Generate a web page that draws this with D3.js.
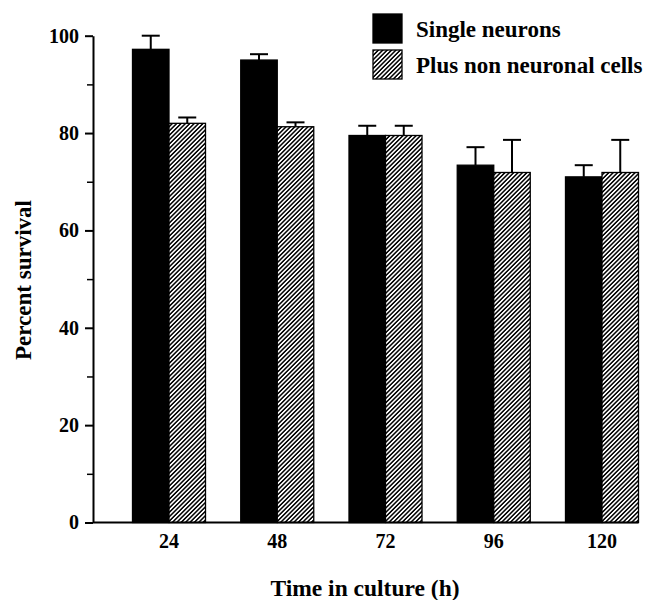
<!DOCTYPE html>
<html>
<head>
<meta charset="utf-8">
<script src="https://cdn.jsdelivr.net/npm/d3@7"></script>
<style>
  body { margin: 0; background: #fff; }
  svg { display: block; }
</style>
</head>
<body>
<script>
// values
var hours = ["24", "48", "72", "96", "120"];
var single = [97.2, 95.0, 79.5, 73.4, 71.0];
var singleErr = [2.8, 1.2, 2.0, 3.7, 2.4];
var plus = [82.0, 81.3, 79.5, 71.9, 71.9];
var plusErr = [1.2, 0.9, 2.0, 6.7, 6.7];
var yTicks = [0, 20, 40, 60, 80, 100];
var yMinor = [10, 30, 50, 70, 90];
var series = ["Single neurons", "Plus non neuronal cells"];

var width = 665, height = 600;
var font = "'Liberation Serif', 'Times New Roman', serif";

var svg = d3.select("body").append("svg")
    .attr("width", width)
    .attr("height", height)
    .attr("font-family", font)
    .attr("font-weight", "bold");

var defs = svg.append("defs");
defs.append("pattern")
    .attr("id", "hatch")
    .attr("patternUnits", "userSpaceOnUse")
    .attr("width", 3.1)
    .attr("height", 3.1)
    .attr("patternTransform", "rotate(45)")
  .call(p => {
    p.append("rect").attr("width", 3.1).attr("height", 3.1).attr("fill", "#fff");
    p.append("line").attr("x1", 0.8).attr("x2", 0.8).attr("y1", 0).attr("y2", 3.1)
      .attr("stroke", "#000").attr("stroke-width", 1.5);
  });

var axisX = 93;
var y = d3.scaleLinear().domain([0, 100]).range([522.5, 35.7]);

var x = d3.scaleBand()
    .domain(hours)
    .range([132.5, 638.5])
    .paddingInner(0.3256)
    .paddingOuter(0);

var x1 = d3.scaleBand()
    .domain([0, 1])
    .range([0, x.bandwidth()]);

var rows = hours.map((h, i) => ({
  hour: h,
  bars: [
    {k: 0, v: single[i], e: singleErr[i]},
    {k: 1, v: plus[i], e: plusErr[i]}
  ]
}));

var fills = ["#000", "url(#hatch)"];

var group = svg.append("g").selectAll("g")
  .data(rows)
  .join("g")
    .attr("transform", d => `translate(${x(d.hour)},0)`);

// error bars (drawn first, bar tops cover the base)
group.selectAll("g.err")
  .data(d => d.bars)
  .join("g")
    .attr("class", "err")
    .attr("stroke", "#000")
    .attr("stroke-width", 2)
  .call(g => {
    g.append("line")
      .attr("x1", d => x1(d.k) + x1.bandwidth() / 2)
      .attr("x2", d => x1(d.k) + x1.bandwidth() / 2)
      .attr("y1", d => y(d.v))
      .attr("y2", d => y(d.v + d.e));
    g.append("line")
      .attr("x1", d => x1(d.k) + x1.bandwidth() / 2 - 9)
      .attr("x2", d => x1(d.k) + x1.bandwidth() / 2 + 9)
      .attr("y1", d => y(d.v + d.e))
      .attr("y2", d => y(d.v + d.e));
  });

group.selectAll("rect")
  .data(d => d.bars)
  .join("rect")
    .attr("x", d => x1(d.k))
    .attr("y", d => y(d.v))
    .attr("width", x1.bandwidth())
    .attr("height", d => y(0) - y(d.v))
    .attr("fill", d => fills[d.k])
    .attr("stroke", "#000")
    .attr("stroke-width", 1.3);

// y axis
svg.append("g")
    .attr("transform", `translate(${axisX},0)`)
    .call(d3.axisLeft(y).tickValues(yMinor).tickSize(6).tickSizeOuter(0).tickFormat(""))
    .call(g => g.select(".domain").remove())
    .call(g => g.selectAll("line").attr("stroke-width", 1.5));

svg.append("g")
    .attr("transform", `translate(${axisX},0)`)
    .call(d3.axisLeft(y).tickValues(yTicks).tickSize(8).tickSizeOuter(0).tickPadding(6))
    .call(g => g.select(".domain").attr("stroke-width", 2))
    .call(g => g.selectAll("line").attr("stroke-width", 2))
    .call(g => g.selectAll("text")
      .attr("font-family", font)
      .attr("font-weight", "bold")
      .attr("font-size", 20)
      .attr("fill", "#000"));

// x axis
svg.append("line")
    .attr("x1", axisX)
    .attr("x2", x.range()[1])
    .attr("y1", y(0))
    .attr("y2", y(0))
    .attr("stroke", "#000")
    .attr("stroke-width", 2);

svg.append("g")
    .attr("transform", `translate(0,${y(0)})`)
    .call(d3.axisBottom(x).tickSize(0).tickPadding(11.5))
    .call(g => g.select(".domain").remove())
    .call(g => g.selectAll("text")
      .attr("font-family", font)
      .attr("font-weight", "bold")
      .attr("font-size", 20)
      .attr("fill", "#000"));

// axis titles
svg.append("text")
    .attr("transform", "translate(31,280) rotate(-90)")
    .attr("text-anchor", "middle")
    .attr("font-size", 23)
    .text("Percent survival");

svg.append("text")
    .attr("x", 365)
    .attr("y", 596)
    .attr("text-anchor", "middle")
    .attr("font-size", 23.5)
    .text("Time in culture (h)");

// legend
var legend = svg.append("g")
    .attr("transform", "translate(373,14)")
  .selectAll("g")
  .data(series)
  .join("g")
    .attr("transform", (d, i) => `translate(0,${i * 36})`);

legend.append("rect")
    .attr("width", 29)
    .attr("height", 29)
    .attr("fill", (d, i) => fills[i])
    .attr("stroke", "#000")
    .attr("stroke-width", 1.3);

legend.append("text")
    .attr("x", 43)
    .attr("y", 23)
    .attr("font-size", 23)
    .text(d => d);
</script>
</body>
</html>
